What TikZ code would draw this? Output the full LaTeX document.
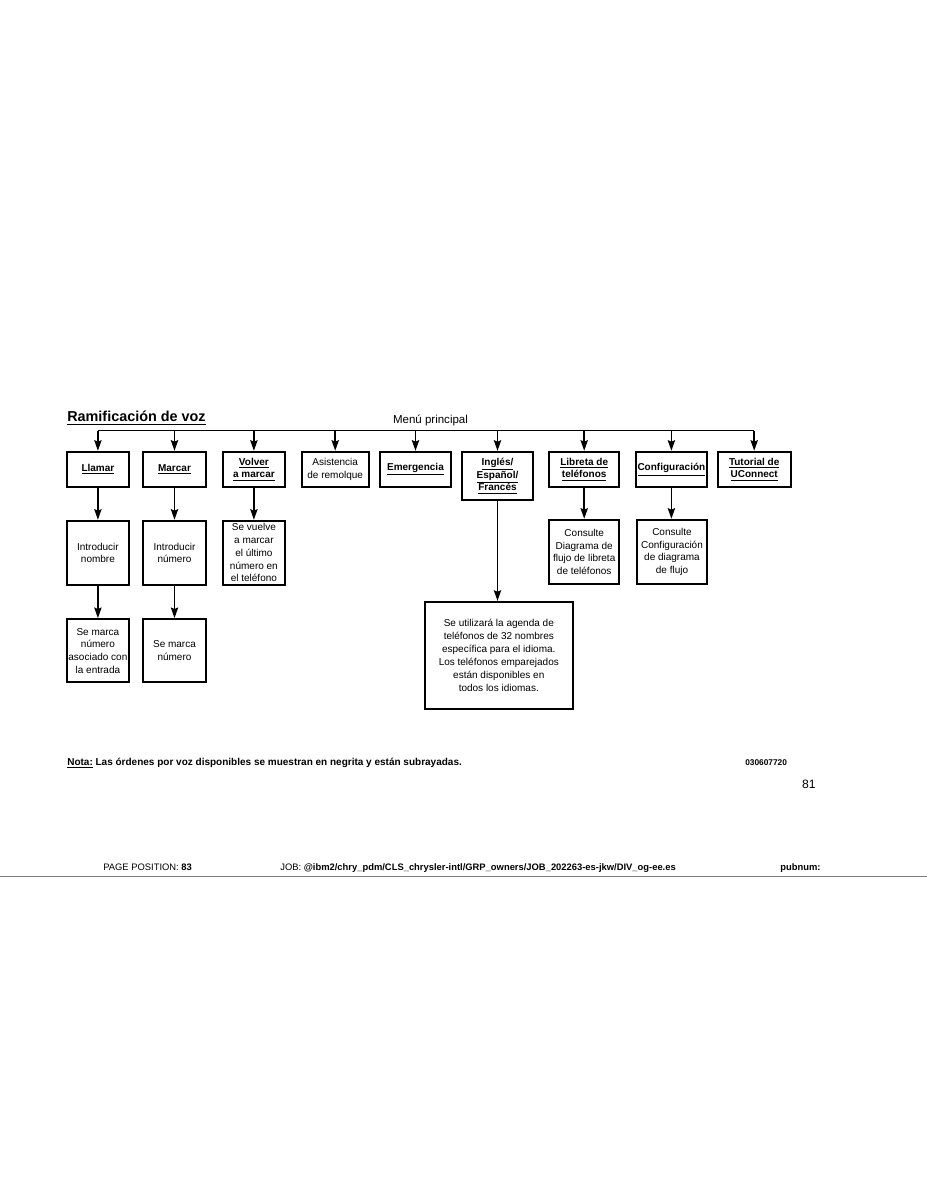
\documentclass[tikz,border=0pt]{standalone}
\usepackage{fontspec}
\setmainfont{Liberation Sans}
\usepackage{tikz}
\usetikzlibrary{arrows.meta, positioning, calc}
\newcommand{\orden}[1]{\underline{\textbf{#1}}}
\tikzset{
	caja/.style    ={rectangle, draw=black, line width=1.2pt, inner sep=0pt, align=center, fill=white, font=\fontsize{6.6}{8.4}\selectfont},
	opcion/.style  ={caja, minimum width=41.1pt, minimum height=23.5pt},
	subcaja/.style ={caja, minimum width=41.1pt, minimum height=42.4pt},
	flecha/.style  ={-{Stealth[length=7pt, width=4.8pt, inset=1pt]}, line width=1.1pt},
	pie/.style     ={anchor=base west, inner sep=0pt, font=\fontsize{6.2}{7}\selectfont},
}

\begin{document}
\begin{tikzpicture}[x=0.66pt, y=-0.66pt]
	\useasboundingbox (0,0) rectangle (927,1200);
	\node[anchor=base west, inner sep=0pt, font=\fontsize{9.5}{11}\selectfont] (titulo) at (67,421.7) {\orden{Ramificación de voz}};
	\node[anchor=base, inner sep=0pt, font=\fontsize{7.6}{9}\selectfont] (menu) at (430.5,423.5) {Menú principal};
	\coordinate (bus) at (0,430.5);
	% main menu options
	\node[opcion] (llamar) at (97.9,469.5) {\orden{Llamar}};
	\node[opcion] (marcar) at (174.5,469.5) {\orden{Marcar}};
	\node[opcion] (volver) at (253.9,469.5) {\orden{Volver}\\ \orden{a marcar}};
	\node[opcion, minimum width=44.2pt] (asist) at (335.2,469.5) {Asistencia\\ de remolque};
	\node[opcion, minimum width=46.9pt] (emerg) at (415.5,469.5) {\orden{Emergencia}};
	\node[opcion, minimum width=46.5pt, minimum height=31.9pt] (idioma) at (497.5,475.9) {\orden{Inglés/}\\ \orden{Español/}\\ \orden{Francés}};
	\node[opcion, minimum width=46.4pt] (libreta) at (584.2,469.5) {\orden{Libreta de}\\ \orden{teléfonos}};
	\node[opcion, minimum width=46.7pt] (config) at (671.4,469.5) {\orden{Configuración}};
	\node[opcion, minimum width=48.2pt] (tutorial) at (754.2,469.5) {\orden{Tutorial de}\\ \orden{UConnect}};
	\draw[line width=1.1pt] (llamar.north |- bus) -- (tutorial.north |- bus);
	\foreach \n in {llamar, marcar, volver, asist, emerg, idioma, libreta, config, tutorial}
		\draw[flecha] (\n.north |- bus) -- (\n.north);
	% second level
	\node[subcaja] (nombre) at (97.9,552.8) {Introducir\\ nombre};
	\node[subcaja] (numero) at (174.5,552.8) {Introducir\\ número};
	\node[subcaja] (vuelve) at (253.9,552.8) {Se vuelve\\ a marcar\\ el último\\ número en\\ el teléfono};
	\node[subcaja, minimum width=46.4pt] (libsub) at (584.2,551.8) {Consulte\\ Diagrama de\\ flujo de libreta\\ de teléfonos};
	\node[subcaja, minimum width=45.8pt] (cfgsub) at (672,551.8) {Consulte\\ Configuración\\ de diagrama\\ de flujo};
	\node[subcaja, minimum height=41.8pt] (asociado) at (97.9,650.7) {Se marca\\ número\\ asociado con\\ la entrada};
	\node[subcaja, minimum height=41.8pt] (marcado) at (174.5,650.7) {Se marca\\ número};
	\node[caja, minimum width=97.5pt, minimum height=70.8pt, font=\fontsize{6.6}{8.6}\selectfont] (agenda) at (498.8,655.4) {Se utilizará la agenda de\\ teléfonos de 32 nombres\\ específica para el idioma.\\ Los teléfonos emparejados\\ están disponibles en\\ todos los idiomas.};
	\draw[flecha] (llamar.south) -- (nombre.north);
	\draw[flecha] (nombre.south) -- (asociado.north);
	\draw[flecha] (marcar.south) -- (numero.north);
	\draw[flecha] (numero.south) -- (marcado.north);
	\draw[flecha] (volver.south) -- (vuelve.north);
	\draw[flecha] (libreta.south) -- (libsub.north);
	\draw[flecha] (config.south) -- (config.south |- cfgsub.north);
	\draw[flecha] (idioma.south) -- (idioma.south |- agenda.north);
	% note and page footer
	\node[pie, font=\bfseries\fontsize{6.6}{7}\selectfont] (nota) at (67,765) {\underline{Nota:} Las órdenes por voz disponibles se muestran en negrita y están subrayadas.};
	\node[pie, font=\bfseries\fontsize{5.5}{7}\selectfont] (codigo) at (745,765) {030607720};
	\node[pie, anchor=base east, font=\fontsize{8}{9}\selectfont] (pagina) at (816,788) {81};
	\node[pie] (posicion) at (103,870) {PAGE POSITION: \textbf{83}};
	\node[pie] (job) at (280,870) {JOB: \textbf{@ibm2/chry\_pdm/CLS\_chrysler-intl/GRP\_owners/JOB\_202263-es-jkw/DIV\_og-ee.es}};
	\node[pie, font=\bfseries\fontsize{6.2}{7}\selectfont] (pubnum) at (780,870) {pubnum:};
	\draw[gray, line width=0.6pt] (0,876) -- (927,876);
\end{tikzpicture}
\end{document}
